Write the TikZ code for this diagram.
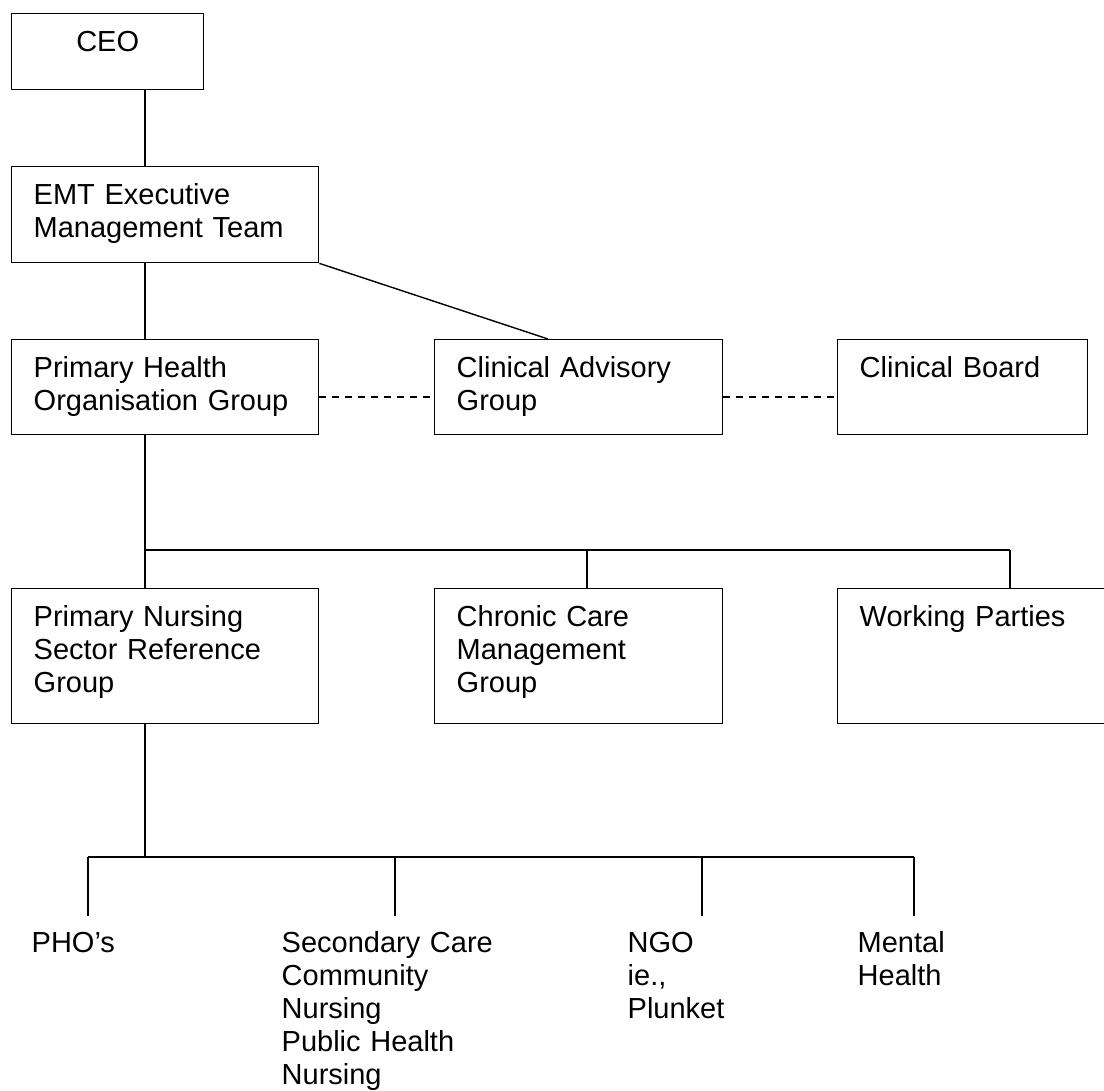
\documentclass[tikz,border=0pt]{standalone}
\usepackage{fontspec}
\setmainfont{Liberation Sans}
\usepackage{tikz}

\tikzset{
  unit/.style={draw, anchor=north west, align=left, inner xsep=11pt, inner ysep=0pt,
    text height=19pt, font=\fontsize{14.5}{16.5}\selectfont},
  leaf/.style={anchor=north west, align=left, inner sep=0pt, text width=115pt,
    text height=18pt, font=\fontsize{14.5}{16.5}\selectfont},
  dotline/.style={dash pattern=on 3.5pt off 3pt}
}

\begin{document}
\begin{tikzpicture}[x=0.5pt,y=-0.5pt,line width=0.7pt]
    \useasboundingbox (0,0) rectangle (1104,1091);

    % top
    \node[unit, align=center, text width=74pt, text depth=19pt] (ceo) at (11,13) {CEO};
    \node[unit, text width=131.5pt, text depth=29pt] (emt) at (11,166)
      {EMT Executive\\Management Team};

    % row 2
    \node[unit, text width=131.5pt, text depth=28.5pt] (phog) at (11,339)
      {Primary Health\\Organisation Group};
    \node[unit, text width=122pt, text depth=28.5pt] (cag) at (434,339)
      {Clinical Advisory\\Group};
    \node[unit, text width=103pt, text depth=28.5pt] (cb) at (837,339) {Clinical Board};

    % row 3
    \node[unit, text width=131.5pt, text depth=48.5pt] (pnsrg) at (11,588)
      {Primary Nursing\\Sector Reference\\Group};
    \node[unit, text width=122pt, text depth=48.5pt] (ccmg) at (434,588)
      {Chronic Care\\Management\\Group};
    \node[unit, text width=123pt, text depth=48.5pt] (wp) at (837,588) {Working Parties};

    % leaves
    \node[leaf] (phos) at (31,916) {PHO’s};
    \node[leaf] (scare) at (281,916) {Secondary Care\\Community\\Nursing\\Public Health\\Nursing};
    \node[leaf] (ngo) at (627,916) {NGO\\ie.,\\Plunket};
    \node[leaf] (mental) at (857,916) {Mental\\Health};

    % links
    \coordinate (spine) at (145,0);
    \draw (ceo.south -| spine) -- (emt.north -| spine);
    \draw (emt.south -| spine) -- (phog.north -| spine);
    \draw (emt.south east) -- ([xshift=57pt]cag.north west);
    \draw[dotline] ([yshift=-5pt]phog.east) -- ([yshift=-5pt]cag.west);
    \draw[dotline] ([yshift=-5pt]cag.east) -- ([yshift=-5pt]cb.west);

    \path (145,550) coordinate (bus0) (587,550) coordinate (bus1) (1010,550) coordinate (bus2);
    \draw (phog.south -| spine) -- (pnsrg.north -| spine);
    \draw (bus0) -- (bus2);
    \draw (bus1) -- (bus1 |- ccmg.north);
    \draw (bus2) -- (bus2 |- wp.north);

    \path (145,857) coordinate (lbus);
    \draw (pnsrg.south -| spine) -- (lbus);
    \foreach \x/\n in {88/phos,395/scare,702/ngo,914/mental}
    { \path (\x,857) coordinate (t\n); \draw (t\n) -- (t\n |- \n.north); }
    \draw (tphos) -- (tmental);
  \end{tikzpicture}
\end{document}
